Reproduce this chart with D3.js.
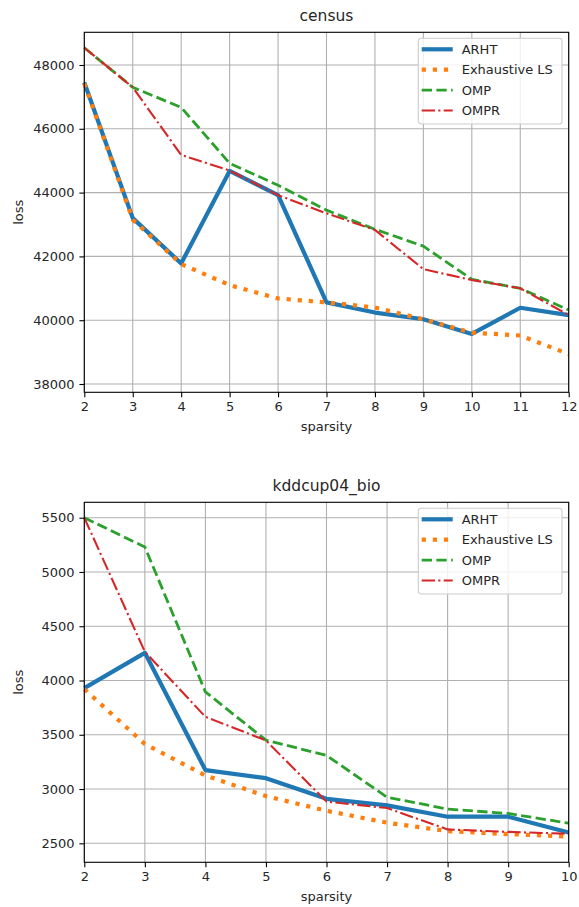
<!DOCTYPE html>
<html>
<head>
<meta charset="utf-8">
<script src="https://cdn.jsdelivr.net/npm/d3@7"></script>
<style>
  body { margin: 0; background: #fff; }
  text { font-family: "DejaVu Sans", sans-serif; fill: #262626; }
</style>
</head>
<body>
<div id="chart"></div>
<script>
var chart_width  = 579;
var chart_height = 907;

// series names
var methods = ["ARHT", "Exhaustive LS", "OMP", "OMPR"];

// census panel
var census_x     = [2, 3, 4, 5, 6, 7, 8, 9, 10, 11, 12];
var census_arht  = [47450, 43200, 41780, 44680, 43920, 40560, 40240, 40030, 39570, 40390, 40160];
var census_els   = [47420, 43150, 41760, 41100, 40680, 40560, 40400, 40030, 39610, 39520, 38940];
var census_omp   = [48540, 47300, 46670, 44920, 44230, 43450, 42850, 42320, 41280, 41000, 40320];
var census_ompr  = [48540, 47300, 45180, 44690, 43920, 43350, 42830, 41600, 41260, 41000, 40160];
var census_yticks = [38000, 40000, 42000, 44000, 46000, 48000];

// kddcup04_bio panel
var kdd_x     = [2, 3, 4, 5, 6, 7, 8, 9, 10];
var kdd_arht  = [3930, 4255, 3175, 3100, 2910, 2850, 2745, 2745, 2600];
var kdd_els   = [3920, 3415, 3125, 2935, 2800, 2690, 2612, 2585, 2562];
var kdd_omp   = [5500, 5230, 3895, 3450, 3310, 2925, 2815, 2775, 2685];
var kdd_ompr  = [5500, 4265, 3665, 3448, 2884, 2825, 2628, 2605, 2588];
var kdd_yticks = [2500, 3000, 3500, 4000, 4500, 5000, 5500];

var styles = [
  { color: "#1f77b4", width: 4.2, dash: null },
  { color: "#ff7f0e", width: 4.2, dash: "4.2,6.9" },
  { color: "#2ca02c", width: 2.8, dash: "10.3,4.4" },
  { color: "#d62728", width: 2.1, dash: "13.3,3.3,2.1,3.3" }
];

var svg = d3.select("#chart")
  .append("svg")
  .attr("width", chart_width)
  .attr("height", chart_height);

svg.append("rect")
  .attr("width", chart_width)
  .attr("height", chart_height)
  .style("fill", "#fff");

function drawPanel(opts) {
  var left = 84.3, width = 484.4, height = 360;
  var g = svg.append("g").attr("transform", "translate(" + left + "," + opts.top + ")");

  var x = d3.scaleLinear().domain(d3.extent(opts.xs)).range([0, width]);
  var y = d3.scaleLinear().domain(opts.ydomain).range([height, 0]);

  // grid
  g.append("g").selectAll("line")
    .data(opts.xs).enter().append("line")
    .attr("x1", d => x(d)).attr("x2", d => x(d))
    .attr("y1", 0).attr("y2", height)
    .style("stroke", "#b0b0b0").style("stroke-width", 1.1);
  g.append("g").selectAll("line")
    .data(opts.yticks).enter().append("line")
    .attr("x1", 0).attr("x2", width)
    .attr("y1", d => y(d)).attr("y2", d => y(d))
    .style("stroke", "#b0b0b0").style("stroke-width", 1.1);

  // lines
  var line = d3.line()
    .x((d, i) => x(opts.xs[i]))
    .y(d => y(d));

  opts.series.forEach(function(s, i) {
    var st = styles[i];
    g.append("path")
      .datum(s)
      .attr("d", line)
      .style("fill", "none")
      .style("stroke", st.color)
      .style("stroke-width", st.width)
      .style("stroke-linejoin", "round")
      .style("stroke-dasharray", st.dash);
  });

  // axes
  var xAxis = g.append("g")
    .attr("transform", "translate(0," + height + ")")
    .call(d3.axisBottom(x).tickValues(opts.xs).tickFormat(d3.format("d")).tickSize(4.9).tickPadding(4.9));
  var yAxis = g.append("g")
    .call(d3.axisLeft(y).tickValues(opts.yticks).tickFormat(d3.format("d")).tickSize(4.9).tickPadding(4.9));
  [xAxis, yAxis].forEach(function(a) {
    a.select(".domain").remove();
    a.selectAll("line").style("stroke", "#000").style("stroke-width", 1.1);
    a.selectAll("text").style("font-size", "13px").style("fill", "#262626")
      .style("font-family", "DejaVu Sans, sans-serif");
  });

  // frame
  g.append("rect")
    .attr("width", width).attr("height", height)
    .style("fill", "none").style("stroke", "#000").style("stroke-width", 1.1);

  // labels
  g.append("text")
    .attr("x", width / 2).attr("y", -11)
    .attr("text-anchor", "middle")
    .style("font-size", "15.5px")
    .text(opts.title);
  g.append("text")
    .attr("x", width / 2).attr("y", height + 39)
    .attr("text-anchor", "middle")
    .style("font-size", "13px")
    .text("sparsity");
  g.append("text")
    .attr("transform", "translate(-61," + (height / 2) + ") rotate(-90)")
    .attr("text-anchor", "middle")
    .style("font-size", "13px")
    .text("loss");

  // legend
  var lg = g.append("g").attr("transform", "translate(" + (418.3 - left) + ",6)");
  lg.append("rect")
    .attr("width", 143.7).attr("height", 85.7)
    .attr("rx", 2.8)
    .style("fill", "rgba(255,255,255,0.8)")
    .style("stroke", "#cccccc").style("stroke-width", 1.1);
  methods.forEach(function(m, i) {
    var st = styles[i];
    var yy = 11 + i * 20.4;
    lg.append("line")
      .attr("x1", 3.4).attr("x2", 34.4)
      .attr("y1", yy).attr("y2", yy)
      .style("stroke", st.color)
      .style("stroke-width", st.width)
      .style("stroke-dasharray", st.dash);
    lg.append("text")
      .attr("x", 43.4).attr("y", yy)
      .attr("dy", "0.35em")
      .style("font-size", "13px")
      .text(m);
  });
}

drawPanel({
  top: 32.3,
  title: "census",
  xs: census_x,
  ydomain: [37740, 49025],
  yticks: census_yticks,
  series: [census_arht, census_els, census_omp, census_ompr]
});

drawPanel({
  top: 502.3,
  title: "kddcup04_bio",
  xs: kdd_x,
  ydomain: [2325, 5642],
  yticks: kdd_yticks,
  series: [kdd_arht, kdd_els, kdd_omp, kdd_ompr]
});
</script>
</body>
</html>
